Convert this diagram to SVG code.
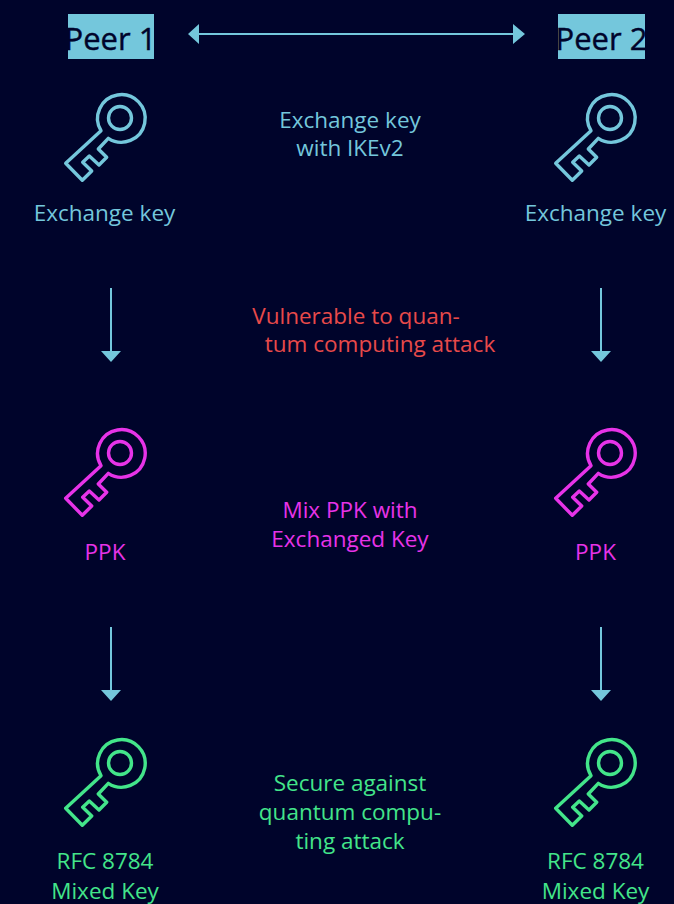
<svg xmlns="http://www.w3.org/2000/svg" width="674" height="904" viewBox="0 0 674 904">
<style>
text{font-family:"Open Sans","Liberation Sans",sans-serif;font-size:22.5px;text-anchor:middle}
.teal{fill:#74c7dc}.mag{fill:#e733e8}.grn{fill:#43e58a}.red{fill:#e84a4a}
.peer{font-size:31px;fill:#00042b;stroke:#00042b;stroke-width:.4}
.k{fill:none;stroke-width:3.4;stroke-linejoin:round}
.c{stroke:#74c7dc;stroke-width:2;fill:none}
.h{fill:#74c7dc}
</style>
<defs>
<g id="key"><path d="M101 130.700L65.700 163.300L82.300 180.300L91.700 171L82.700 162.300L89.300 156L99 165L106.700 157.300L98.300 149L108.300 138.300A23.800 23.800 0 1 0 101 130.700Z"/><circle cx="120" cy="118" r="11.500"/></g>
</defs>
<rect width="674" height="904" fill="#00042b"/>
<g id="connectors">
<path class="c" d="M198 34H514M111 288V352M601 288V352M111 627V691M601 627V691"/>
<path class="h" d="M188 34L199 24V44ZM525 34L513 24V44ZM111 362L101 351H121ZM601 362L591 351H611ZM111 701L101 690H121ZM601 701L591 690H611Z"/>
</g>
<g id="peer1"><rect x="68" y="14" width="86" height="45" fill="#74c7dc"/><text class="peer" x="110.500" y="50">Peer 1</text></g>
<g id="peer2"><rect x="558" y="14" width="87" height="45" fill="#74c7dc"/><text class="peer" x="601.500" y="50">Peer 2</text></g>
<g id="exchange1"><use href="#key" class="k" stroke="#74c7dc"/><text class="teal" x="104.500" y="221">Exchange key</text></g>
<g id="exchange2"><use href="#key" class="k" stroke="#74c7dc" x="490"/><text class="teal" x="595.500" y="221">Exchange key</text></g>
<g id="ppk1"><use href="#key" class="k" stroke="#e733e8" y="335"/><text class="mag" x="105" y="560">PPK</text></g>
<g id="ppk2"><use href="#key" class="k" stroke="#e733e8" x="490" y="335"/><text class="mag" x="595.500" y="560">PPK</text></g>
<g id="mixed1"><use href="#key" class="k" stroke="#43e58a" y="645"/><text class="grn" x="105" y="869">RFC 8784</text><text class="grn" x="105" y="899">Mixed Key</text></g>
<g id="mixed2"><use href="#key" class="k" stroke="#43e58a" x="490" y="645"/><text class="grn" x="595.500" y="869">RFC 8784</text><text class="grn" x="595.500" y="899">Mixed Key</text></g>
<g id="note-ike"><text class="teal" x="350" y="128">Exchange key</text><text class="teal" x="350" y="156">with IKEv2</text></g>
<g id="note-vuln"><text class="red" x="356" y="324">Vulnerable to quan-</text><text class="red" x="380" y="352">tum computing attack</text></g>
<g id="note-mix"><text class="mag" x="350" y="518">Mix PPK with</text><text class="mag" x="350" y="547">Exchanged Key</text></g>
<g id="note-secure"><text class="grn" x="350" y="791">Secure against</text><text class="grn" x="350" y="820">quantum compu-</text><text class="grn" x="350" y="849">ting attack</text></g>
</svg>
